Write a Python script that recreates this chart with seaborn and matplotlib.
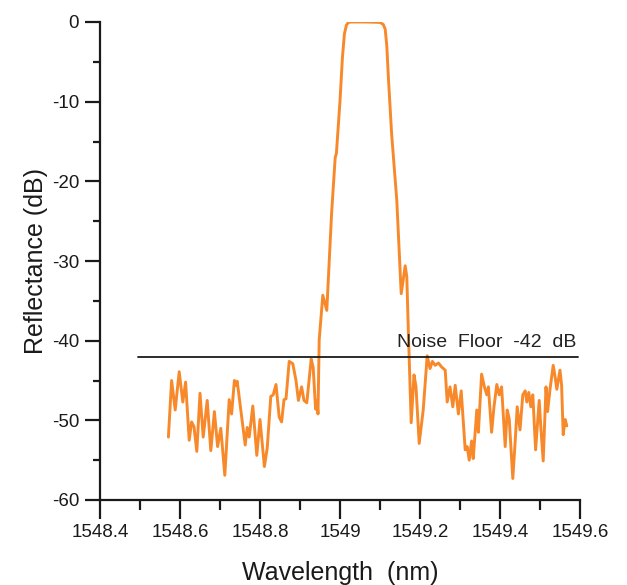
import matplotlib
matplotlib.use("Agg")
import matplotlib.pyplot as plt
import matplotlib.ticker as mticker
import seaborn as sns
import pandas as pd

wavelength = [
    1548.571, 1548.579, 1548.588, 1548.598, 1548.607, 1548.614, 1548.623, 1548.629,
    1548.635, 1548.642, 1548.650, 1548.658, 1548.668, 1548.677, 1548.686, 1548.694,
    1548.702, 1548.712, 1548.723, 1548.729, 1548.736, 1548.740, 1548.743, 1548.754,
    1548.763, 1548.768, 1548.773, 1548.782, 1548.792, 1548.800, 1548.811, 1548.818,
    1548.827, 1548.833, 1548.840, 1548.848, 1548.854, 1548.860, 1548.865, 1548.873,
    1548.882, 1548.890, 1548.896, 1548.904, 1548.910, 1548.917, 1548.928, 1548.933,
    1548.939, 1548.942, 1548.945,
    1548.948, 1548.957, 1548.967, 1548.979, 1548.988, 1548.991, 1549.000, 1549.006,
    1549.011, 1549.016, 1549.021, 1549.028, 1549.063, 1549.100, 1549.108, 1549.113,
    1549.117, 1549.121, 1549.129, 1549.142,
    1549.150, 1549.153, 1549.163, 1549.167, 1549.171,
    1549.178, 1549.185, 1549.190, 1549.198, 1549.208, 1549.218, 1549.225, 1549.231,
    1549.238, 1549.246, 1549.254, 1549.263, 1549.268, 1549.275, 1549.282, 1549.288,
    1549.296, 1549.303, 1549.313, 1549.318, 1549.323, 1549.329, 1549.333, 1549.342,
    1549.346, 1549.354, 1549.361, 1549.367, 1549.371, 1549.379, 1549.385, 1549.392,
    1549.398, 1549.404, 1549.413, 1549.418, 1549.423, 1549.432, 1549.438, 1549.443,
    1549.450, 1549.457, 1549.463, 1549.467, 1549.472, 1549.477, 1549.482, 1549.489,
    1549.498, 1549.502, 1549.508, 1549.515, 1549.519, 1549.525, 1549.533, 1549.538,
    1549.542, 1549.550, 1549.554, 1549.558, 1549.563, 1549.567,
]
reflectance = [
    -52.1, -45.0, -48.7, -43.9, -47.7, -45.2, -52.5, -50.2,
    -50.8, -53.9, -46.6, -52.1, -47.5, -53.8, -48.9, -53.3,
    -51.0, -56.9, -47.4, -49.2, -45.0, -45.6, -45.1, -49.5,
    -53.1, -50.9, -52.1, -48.2, -54.4, -49.9, -55.8, -53.5,
    -47.0, -46.8, -45.5, -49.6, -50.2, -47.4, -47.3, -42.6,
    -42.9, -45.0, -47.5, -45.8, -47.5, -47.8, -42.3, -43.4,
    -48.6, -47.5, -49.2,
    -39.9, -34.3, -36.2, -24.0, -17.0, -16.5, -9.9, -4.5,
    -1.5, -0.4, -0.05, 0.0, 0.0, -0.05, -0.3, -0.9,
    -3.0, -7.0, -14.0, -22.4,
    -30.8, -34.1, -30.6, -32.0, -39.0,
    -50.3, -44.3, -45.8, -52.9, -48.7, -41.9, -43.5, -42.6,
    -43.1, -42.8, -43.3, -43.7, -47.7, -45.8, -48.3, -45.6,
    -49.2, -46.3, -53.7, -53.3, -55.0, -52.6, -54.8, -48.7,
    -51.5, -44.2, -45.8, -46.8, -45.8, -51.5, -48.3, -45.5,
    -46.8, -45.8, -53.3, -48.7, -49.8, -57.3, -52.6, -48.3,
    -51.2, -46.8, -46.3, -47.7, -46.5, -48.3, -46.8, -53.7,
    -47.5, -50.8, -55.1, -45.8, -48.9, -46.1, -43.1, -44.6,
    -46.1, -43.7, -45.6, -51.8, -49.9, -50.7,
]
noise_floor = -42
noise_x = [1548.495, 1549.595]
x_ticks = [1548.4, 1548.6, 1548.8, 1549.0, 1549.2, 1549.4, 1549.6]
x_tick_labels = ["1548.4", "1548.6", "1548.8", "1549", "1549.2", "1549.4", "1549.6"]
y_ticks = [0, -10, -20, -30, -40, -50, -60]

sns.set_theme(style="ticks")
plt.rcParams["font.family"] = ["Liberation Sans", "DejaVu Sans"]
plt.rcParams["axes.unicode_minus"] = False

df = pd.DataFrame({"Wavelength": wavelength, "Reflectance": reflectance})

fig = plt.figure(figsize=(6.27, 5.85), dpi=100)
ax = fig.add_axes([100 / 627, 1 - 500 / 585, 480 / 627, 478 / 585])

sns.lineplot(data=df, x="Wavelength", y="Reflectance", ax=ax, color="#F7892A",
             linewidth=2.1, sort=False, estimator=None)
ax.plot(noise_x, [noise_floor, noise_floor], color="#1a1a1a", linewidth=1.3)
ax.text(noise_x[1] - 0.005, noise_floor + 0.7, "Noise  Floor  -42  dB",
        ha="right", va="bottom", fontsize=14, color="#222222")

ax.set_xlim(1548.4, 1549.6)
ax.set_ylim(-60, 0)
ax.set_xticks(x_ticks)
ax.set_xticklabels(x_tick_labels)
ax.set_yticks(y_ticks)
ax.set_yticklabels([str(v) for v in y_ticks])
ax.xaxis.set_minor_locator(mticker.MultipleLocator(0.1))
ax.yaxis.set_minor_locator(mticker.MultipleLocator(5))

for side in ["top", "right"]:
    ax.spines[side].set_visible(False)
for side in ["left", "bottom"]:
    ax.spines[side].set_linewidth(1.6)
    ax.spines[side].set_color("#1a1a1a")

ax.tick_params(axis="x", which="major", length=14, width=1.6, labelsize=13.5, pad=3, colors="#1a1a1a")
ax.tick_params(axis="x", which="minor", length=7, width=1.6, colors="#1a1a1a")
ax.tick_params(axis="y", which="major", length=11, width=1.6, labelsize=13.5, pad=4, colors="#1a1a1a")
ax.tick_params(axis="y", which="minor", length=5, width=1.6, colors="#1a1a1a")

ax.set_xlabel("Wavelength  (nm)", fontsize=18, color="#1a1a1a", labelpad=15)
ax.set_ylabel("Reflectance (dB)", fontsize=18, color="#1a1a1a", labelpad=3)

fig.savefig("out.png", dpi=100)
